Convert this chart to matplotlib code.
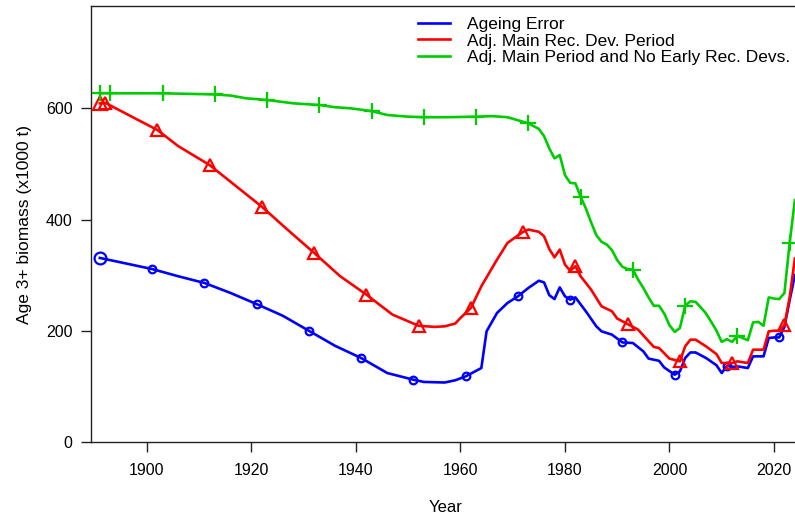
"""Age 3+ biomass comparison of three model runs"""
import matplotlib
matplotlib.use('Agg')
import matplotlib.pyplot as plt
from matplotlib.lines import Line2D

plt.rcParams['font.family'] = ['Liberation Sans', 'DejaVu Sans']

# ---- data (x1000 t) ----
ageing_years = [1891, 1901, 1906, 1911, 1916, 1921, 1926, 1931, 1936, 1941,
                1946, 1951, 1953, 1957, 1959, 1961, 1964, 1965, 1967, 1969,
                1971, 1973, 1975, 1976, 1977, 1978, 1979, 1980, 1981, 1982,
                1984, 1986, 1987, 1989, 1991, 1993, 1995, 1996, 1998, 1999,
                2001, 2002, 2003, 2004, 2005, 2007, 2009, 2010, 2011, 2012,
                2013, 2015, 2016, 2018, 2019, 2020, 2021, 2022, 2023, 2024]
ageing_vals = [331, 311, 298, 286, 268, 248, 227, 200, 173, 151,
               124, 112, 108, 107, 111, 118, 133, 199, 232, 250,
               262, 277, 290, 287, 264, 257, 278, 262, 256, 260,
               235, 208, 199, 193, 179, 178, 163, 150, 146, 134,
               121, 127, 151, 161, 161, 151, 138, 124, 137, 135,
               136, 133, 154, 154, 187, 188, 188, 207, 255, 300]

mainrec_years = [1891, 1892, 1902, 1906, 1912, 1916, 1922, 1927, 1932, 1937,
                 1942, 1947, 1952, 1955, 1957, 1959, 1960, 1962, 1964, 1967,
                 1969, 1972, 1973, 1975, 1976, 1977, 1978, 1979, 1980, 1981,
                 1982, 1983, 1985, 1987, 1989, 1990, 1992, 1994, 1997, 1998,
                 2000, 2002, 2003, 2004, 2005, 2007, 2009, 2010, 2012, 2013,
                 2015, 2016, 2018, 2019, 2020, 2021, 2022, 2023, 2024]
mainrec_vals = [609, 610, 561, 532, 498, 468, 423, 381, 340, 298,
                265, 229, 209, 207, 208, 213, 223, 241, 280, 328,
                358, 378, 382, 378, 370, 347, 332, 346, 319, 308,
                316, 298, 274, 244, 235, 222, 212, 202, 171, 169,
                150, 145, 172, 184, 184, 172, 158, 142, 142, 145,
                142, 166, 166, 199, 200, 200, 210, 260, 330]

noearly_years = [1891, 1893, 1903, 1913, 1916, 1919, 1923, 1928, 1933, 1936,
                 1939, 1943, 1946, 1950, 1953, 1957, 1963, 1966, 1969, 1973,
                 1975, 1976, 1977, 1978, 1979, 1980, 1981, 1982, 1983, 1984,
                 1985, 1986, 1987, 1988, 1989, 1990, 1991, 1992, 1993, 1994,
                 1995, 1996, 1997, 1998, 1999, 2000, 2001, 2002, 2003, 2004,
                 2005, 2006, 2007, 2008, 2009, 2010, 2011, 2012, 2013, 2014,
                 2015, 2016, 2017, 2018, 2019, 2020, 2021, 2022, 2023, 2024]
noearly_vals = [627, 627, 627, 625, 623, 618, 615, 609, 606, 602,
                600, 595, 588, 585, 584, 584, 585, 586, 584, 573,
                563, 550, 528, 510, 516, 480, 466, 465, 441, 420,
                395, 372, 360, 355, 345, 327, 315, 311, 310, 292,
                277, 260, 245, 245, 231, 210, 198, 205, 245, 253,
                252, 242, 231, 216, 200, 180, 185, 180, 191, 187,
                183, 215, 216, 209, 260, 258, 257, 268, 358, 435]

ageing_marks = list(range(1901, 2022, 10))
mainrec_marks = list(range(1892, 2023, 10))
noearly_marks = list(range(1893, 2024, 10))

labels = ['Ageing Error', 'Adj. Main Rec. Dev. Period',
          'Adj. Main Period and No Early Rec. Devs.']

series = [
    (ageing_years, ageing_vals, ageing_marks, '#0000FF', 'o', 5.5, 8.5),
    (mainrec_years, mainrec_vals, mainrec_marks, '#FF0000', '^', 8, 9.5),
    (noearly_years, noearly_vals, noearly_marks, '#00CD00', '+', 11, 11),
]

fig = plt.figure(figsize=(7.95, 5.16), dpi=100)
ax = fig.add_axes([91 / 795, 1 - 442 / 516, 709 / 795, 436 / 516])

for yrs, vals, marks, col, mk, ms, ms0 in series:
    idx = [yrs.index(m) for m in marks]
    ax.plot(yrs, vals, color=col, lw=1.9, marker=mk, markevery=idx,
            ms=ms, mfc='none', mec=col, mew=1.6, zorder=3)
    # first-year (unfished) point, drawn a bit larger
    ax.plot(yrs[0], vals[0], linestyle='none', marker=mk, ms=ms0,
            mfc='none', mec=col, mew=1.6, zorder=3)

ax.set_xlim(1889.3, 2024.98)
ax.set_ylim(0, 784)
ax.set_xticks(range(1900, 2021, 20))
ax.set_yticks(range(0, 601, 200))
ax.spines['right'].set_visible(False)
for s in ['left', 'bottom', 'top']:
    ax.spines[s].set_linewidth(1.0)
    ax.spines[s].set_color('#222222')
ax.tick_params(length=7.2, width=1.0, color='#222222', labelsize=11.5, pad=6)
ax.tick_params(axis='x', pad=8)

ax.set_xlabel('Year', fontsize=12, labelpad=16)
ax.set_ylabel('Age 3+ biomass (x1000 t)', fontsize=12.5, labelpad=10)

handles = [Line2D([], [], color=c[3], lw=1.9) for c in series]
fig.legend(handles, labels, loc='upper left',
           bbox_to_anchor=(418 / 795, 1 - 17 / 516), frameon=False,
           fontsize=12.5, borderpad=0, borderaxespad=0, labelspacing=0.07,
           handlelength=1.85, handletextpad=0.95)

plt.savefig('out.png', dpi=100)
